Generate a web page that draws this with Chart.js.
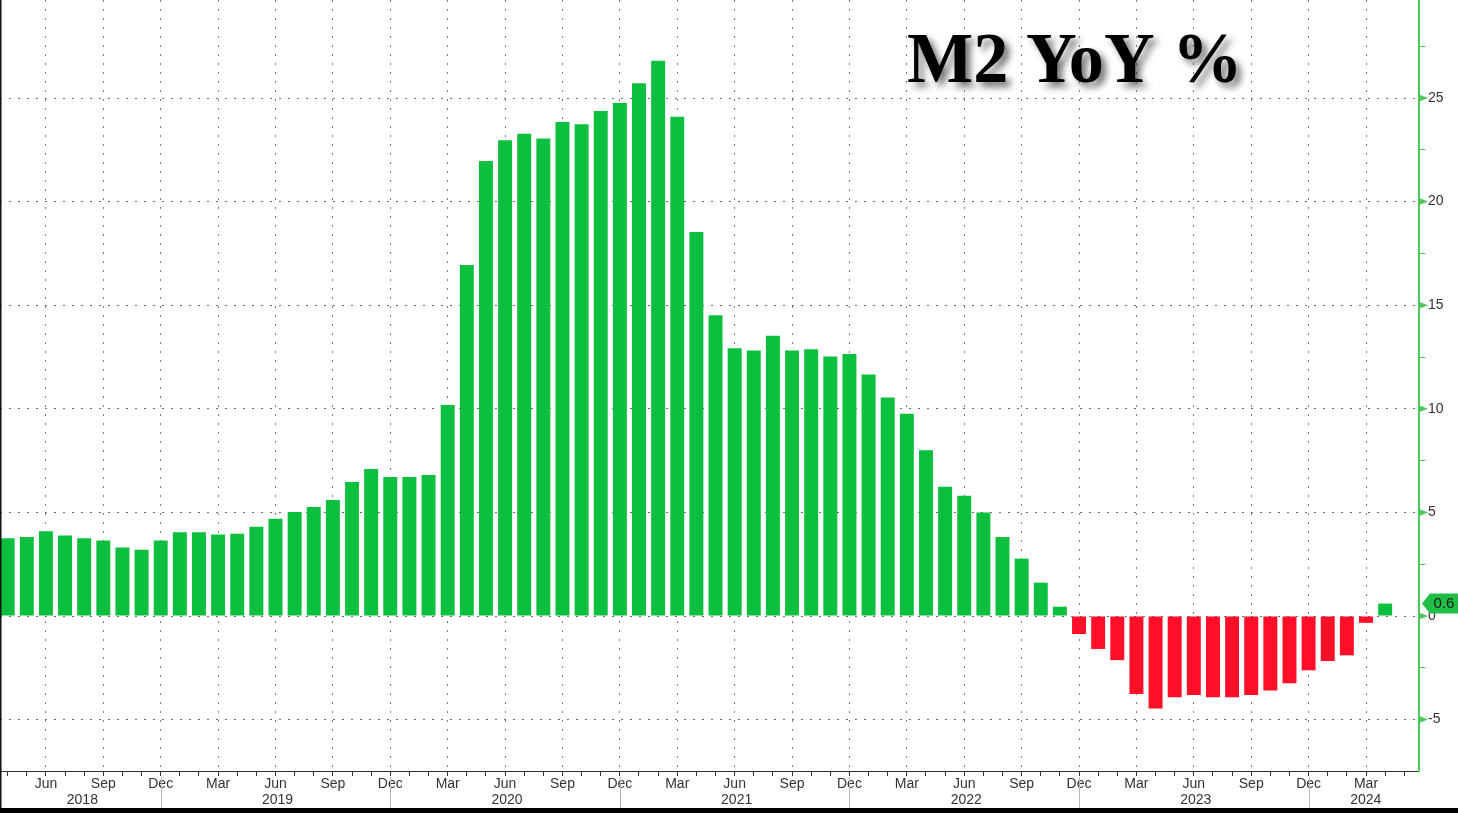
<!DOCTYPE html>
<html>
<head>
<meta charset="utf-8">
<title>M2 YoY %</title>
<script src="https://cdn.jsdelivr.net/npm/chart.js@4.4.1/dist/chart.umd.min.js"></script>
<style>
  html, body {
    margin: 0;
    padding: 0;
    background: #000;
  }
  #wrap {
    position: relative;
    width: 1458px;
    height: 808px;
    background: #fff;
  }
</style>
</head>
<body>
<div id="wrap"><canvas id="m2-chart"></canvas></div>
<script>
// monthly, Apr 2018 .. Apr 2024
const months = [
  "2018-04", "2018-05", "2018-06", "2018-07", "2018-08", "2018-09", "2018-10", "2018-11", "2018-12",
  "2019-01", "2019-02", "2019-03", "2019-04", "2019-05", "2019-06", "2019-07", "2019-08", "2019-09", "2019-10", "2019-11", "2019-12",
  "2020-01", "2020-02", "2020-03", "2020-04", "2020-05", "2020-06", "2020-07", "2020-08", "2020-09", "2020-10", "2020-11", "2020-12",
  "2021-01", "2021-02", "2021-03", "2021-04", "2021-05", "2021-06", "2021-07", "2021-08", "2021-09", "2021-10", "2021-11", "2021-12",
  "2022-01", "2022-02", "2022-03", "2022-04", "2022-05", "2022-06", "2022-07", "2022-08", "2022-09", "2022-10", "2022-11", "2022-12",
  "2023-01", "2023-02", "2023-03", "2023-04", "2023-05", "2023-06", "2023-07", "2023-08", "2023-09", "2023-10", "2023-11", "2023-12",
  "2024-01", "2024-02", "2024-03", "2024-04",
];

const m2YoY = [
  3.75, 3.81, 4.09, 3.88, 3.75, 3.65, 3.31, 3.20, 3.65,
  4.04, 4.04, 3.93, 3.97, 4.31, 4.70, 5.02, 5.26, 5.60, 6.47, 7.09, 6.71,
  6.71, 6.80, 10.18, 16.94, 21.96, 22.96, 23.28, 23.05, 23.84, 23.73, 24.37, 24.76,
  25.71, 26.80, 24.10, 18.53, 14.51, 12.92, 12.81, 13.53, 12.81, 12.87, 12.52, 12.64,
  11.65, 10.55, 9.76, 8.00, 6.24, 5.81, 5.00, 3.81, 2.77, 1.61, 0.45, -0.87,
  -1.59, -2.13, -3.76, -4.46, -3.92, -3.81, -3.92, -3.92, -3.81, -3.59, -3.25, -2.62,
  -2.17, -1.90, -0.33, 0.6,
];

const yTicks = [-5, -2.5, 0, 2.5, 5, 7.5, 10, 12.5, 15, 17.5, 20, 22.5, 25, 27.5];
const monthNames = ["Jan", "Feb", "Mar", "Apr", "May", "Jun", "Jul", "Aug", "Sep", "Oct", "Nov", "Dec"];
const title = "M2 YoY %";

const GREEN = "#0cbf3f";
const RED = "#ff1028";
const AXIS_GREEN = "#4cc75a";

function monthOf(i) {
  return parseInt(months[i].slice(5), 10);
}
function isQuarter(i) {
  return months[i] !== undefined && monthOf(i) % 3 === 0;
}

function noPadding(scale) {
  scale.paddingTop = 0;
  scale.paddingBottom = 0;
  scale.paddingLeft = 0;
  scale.paddingRight = 0;
}

// title, year row, year separators, last value tag
const overlay = {
  id: "overlay",
  afterDraw(chart) {
    const { ctx, chartArea } = chart;
    const x = chart.scales.x;
    const y = chart.scales.y;

    // thin dark frame on the left edge
    ctx.save();
    ctx.fillStyle = "#111";
    ctx.fillRect(0, 0, 1.5, chart.height);
    ctx.restore();

    // year separators below the axis
    ctx.save();
    ctx.strokeStyle = "#b8b8b8";
    ctx.lineWidth = 1;
    const decs = [];
    months.forEach((m, i) => {
      if (monthOf(i) === 12) decs.push(i);
    });
    decs.forEach((i) => {
      const px = Math.round(x.getPixelForValue(i)) + 0.5;
      ctx.beginPath();
      ctx.moveTo(px, chartArea.bottom + 6);
      ctx.lineTo(px, chart.height);
      ctx.stroke();
    });

    // year labels
    ctx.fillStyle = "#333";
    ctx.font = "14px 'Liberation Sans', Arial, sans-serif";
    ctx.textAlign = "center";
    ctx.textBaseline = "middle";
    const years = [...new Set(months.map((m) => m.slice(0, 4)))];
    years.forEach((yr, k) => {
      const left = k === 0 ? chartArea.left : x.getPixelForValue(decs[k - 1]);
      const right = k < decs.length ? x.getPixelForValue(decs[k]) : chartArea.right;
      ctx.fillText(yr, (left + right) / 2 + 2, chartArea.bottom + 29);
    });
    ctx.restore();

    // arrow heads on major y ticks
    ctx.save();
    ctx.fillStyle = AXIS_GREEN;
    yTicks.forEach((v) => {
      if (v % 5 !== 0) return;
      const py = y.getPixelForValue(v);
      ctx.beginPath();
      ctx.moveTo(chartArea.right, py - 3.5);
      ctx.lineTo(chartArea.right + 9, py);
      ctx.lineTo(chartArea.right, py + 3.5);
      ctx.closePath();
      ctx.fill();
    });
    ctx.restore();

    // last value tag
    const last = m2YoY[m2YoY.length - 1];
    const ly = y.getPixelForValue(last);
    const tx = chartArea.right + 3;
    ctx.save();
    ctx.fillStyle = "#1fbe45";
    ctx.beginPath();
    ctx.moveTo(tx, ly);
    ctx.lineTo(tx + 8, ly - 10);
    ctx.lineTo(chart.width, ly - 10);
    ctx.lineTo(chart.width, ly + 10);
    ctx.lineTo(tx + 8, ly + 10);
    ctx.closePath();
    ctx.fill();
    ctx.fillStyle = "#1a1a1a";
    ctx.font = "15px 'Liberation Sans', Arial, sans-serif";
    ctx.textAlign = "center";
    ctx.textBaseline = "middle";
    ctx.fillText(last.toFixed(1), tx + 8 + (chart.width - tx - 8) / 2, ly);
    ctx.restore();

    // title with drop shadow
    ctx.save();
    ctx.font = "bold 72px 'Liberation Serif', 'Times New Roman', serif";
    ctx.textAlign = "left";
    ctx.textBaseline = "alphabetic";
    ctx.shadowColor = "rgba(0,0,0,0.55)";
    ctx.shadowBlur = 7;
    ctx.shadowOffsetX = 5;
    ctx.shadowOffsetY = 5;
    ctx.fillStyle = "#000";
    ctx.translate(907, 82);
    ctx.scale(0.975, 1);
    ctx.fillText(title, 0, 0);
    ctx.restore();
  },
};

const ctx = document.getElementById("m2-chart").getContext("2d");

new Chart(ctx, {
  type: "bar",
  data: {
    datasets: [
      {
        label: "M2 YoY %",
        data: m2YoY.map((v, i) => ({ x: i, y: v })),
        backgroundColor: m2YoY.map((v) => (v < 0 ? RED : GREEN)),
        borderWidth: 0,
        categoryPercentage: 1,
        barPercentage: 0.73,
      },
    ],
  },
  options: {
    responsive: true,
    maintainAspectRatio: false,
    animation: false,
    layout: { padding: 0 },
    plugins: {
      legend: { display: false },
      tooltip: { enabled: false },
    },
    scales: {
      x: {
        type: "linear",
        position: "bottom",
        offset: false,
        min: -0.4,
        max: months.length + 0.77,
        afterBuildTicks: (scale) => {
          scale.ticks = months.map((m, i) => ({ value: i })).concat([{ value: months.length }]);
        },
        afterFit: (scale) => {
          scale.height = 37;
          noPadding(scale);
        },
        ticks: {
          autoSkip: false,
          maxRotation: 0,
          padding: 0,
          color: "#333",
          font: { family: "'Liberation Sans', Arial, sans-serif", size: 14 },
          callback: (value) => (isQuarter(value) ? monthNames[monthOf(value) - 1] : ""),
        },
        grid: {
          offset: false,
          color: (c) => (c.tick && isQuarter(c.tick.value) ? "#7d7d7d" : "rgba(0,0,0,0)"),
          tickColor: "#333",
          tickLength: 5,
          lineWidth: 1,
        },
        border: {
          display: true,
          color: "#333",
          width: 1,
          dash: [2, 7],
        },
      },
      y: {
        position: "right",
        min: -7.48,
        max: 29.73,
        afterBuildTicks: (scale) => {
          scale.ticks = yTicks.map((v) => ({ value: v }));
        },
        afterFit: (scale) => {
          scale.width = 39;
          noPadding(scale);
        },
        ticks: {
          padding: 3,
          color: "#333",
          font: { family: "'Liberation Sans', Arial, sans-serif", size: 14 },
          callback: (value) => (value % 5 === 0 ? String(value) : ""),
        },
        grid: {
          color: (c) => (c.tick && c.tick.value % 5 === 0 ? "#6e6e6e" : "rgba(0,0,0,0)"),
          tickColor: AXIS_GREEN,
          tickLength: 6,
          lineWidth: 1,
        },
        border: {
          display: true,
          color: AXIS_GREEN,
          width: 2,
          dash: [2, 7],
        },
      },
    },
  },
  plugins: [overlay],
});
</script>
</body>
</html>
